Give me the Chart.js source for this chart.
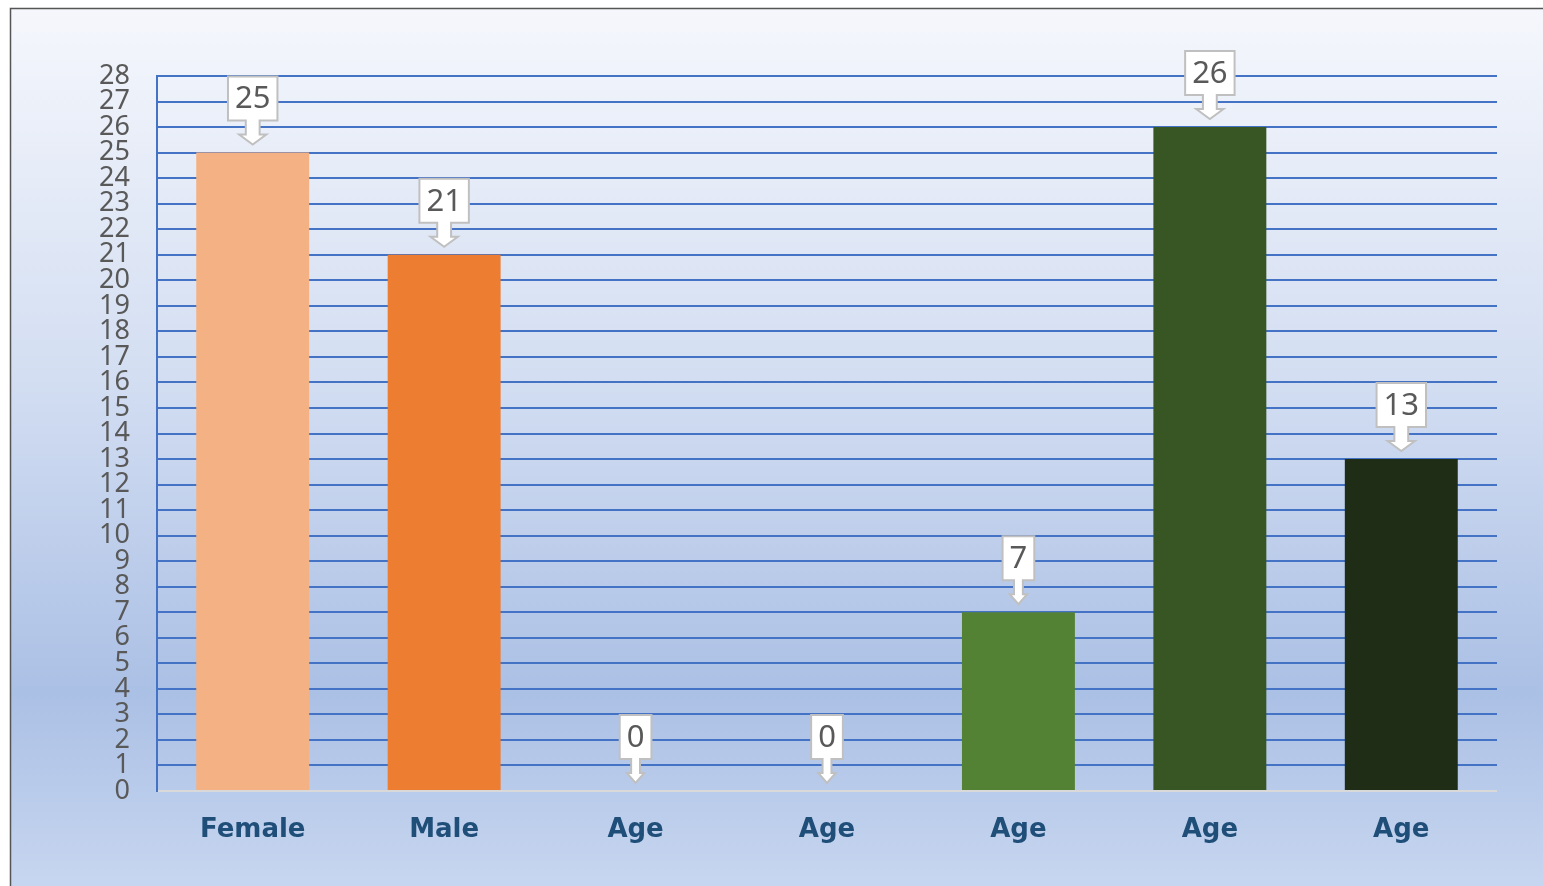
<!DOCTYPE html>
<html>
<head>
<meta charset="utf-8">
<script src="https://cdn.jsdelivr.net/npm/chart.js@4.4.0/dist/chart.umd.min.js"></script>
<style>
    html, body { margin: 0; padding: 0; background: #ffffff; }
    canvas { display: block; }
</style>
</head>
<body>
<canvas id="grafico" width="1543" height="886"></canvas>
<script>
// datos del grafico
var categorias = ["Female", "Male", "Age", "Age", "Age", "Age", "Age"];
var valores = [25, 21, 0, 0, 7, 26, 13];
var coloresBarras = ["#f4b183", "#ed7d31", "#a9d18e", "#70ad47", "#548235", "#375623", "#1f2d16"];
var yMin = 0;
var yMax = 28;

// fondo degradado y marco
var fondoPlugin = {
    id: "fondo",
    beforeDraw: function (chart) {
        var ctx = chart.ctx;
        ctx.save();
        ctx.fillStyle = "#ffffff";
        ctx.fillRect(0, 0, chart.width, chart.height);
        var grad = ctx.createLinearGradient(0, 8, 0, chart.height);
        grad.addColorStop(0, "#f5f7fc");
        grad.addColorStop(0.42, "#d3def2");
        grad.addColorStop(0.78, "#abc0e5");
        grad.addColorStop(1, "#c7d6f0");
        ctx.fillStyle = grad;
        ctx.fillRect(10, 8, chart.width - 10, chart.height - 8);
        ctx.strokeStyle = "#555555";
        ctx.lineWidth = 1.5;
        ctx.beginPath();
        ctx.moveTo(10.5, chart.height);
        ctx.lineTo(10.5, 8.5);
        ctx.lineTo(chart.width, 8.5);
        ctx.stroke();
        ctx.restore();
    }
};

// etiquetas tipo llamada con flecha
var llamadasPlugin = {
    id: "llamadas",
    afterDatasetsDraw: function (chart) {
        var ctx = chart.ctx;
        var meta = chart.getDatasetMeta(0);
        ctx.save();
        ctx.font = "31px 'Noto Sans'";
        meta.data.forEach(function (bar, i) {
            var texto = String(valores[i]);
            var tw = ctx.measureText(texto).width;
            var w = Math.max(31, tw + 14);
            var h = 44;
            var gap = 8;
            var largo = 24;
            var x = bar.x;
            var tip = bar.y - gap;
            var bottom = tip - largo;
            var top = bottom - h;
            var shaft = w * 0.28 / 2;
            var head = w * 0.55 / 2;
            var headH = 10;

            ctx.beginPath();
            ctx.moveTo(x - w / 2, top);
            ctx.lineTo(x + w / 2, top);
            ctx.lineTo(x + w / 2, bottom);
            ctx.lineTo(x + shaft, bottom);
            ctx.lineTo(x + shaft, tip - headH);
            ctx.lineTo(x + head, tip - headH);
            ctx.lineTo(x, tip);
            ctx.lineTo(x - head, tip - headH);
            ctx.lineTo(x - shaft, tip - headH);
            ctx.lineTo(x - shaft, bottom);
            ctx.lineTo(x - w / 2, bottom);
            ctx.closePath();
            ctx.fillStyle = "#ffffff";
            ctx.fill();
            ctx.strokeStyle = "#c0c0c0";
            ctx.lineWidth = 2;
            ctx.stroke();

            ctx.fillStyle = "#595959";
            ctx.textAlign = "center";
            ctx.textBaseline = "middle";
            ctx.fillText(texto, x, top + h / 2 + 1);
        });
        ctx.restore();
    }
};

var ctx1 = document.getElementById("grafico").getContext("2d");
var grafico = new Chart(ctx1, {
    type: "bar",
    data: {
        labels: categorias,
        datasets: [
            {
                data: valores,
                backgroundColor: coloresBarras,
                borderWidth: 0,
                barPercentage: 0.59,
                categoryPercentage: 1,
            },
        ],
    },
    options: {
        responsive: false,
        animation: false,
        layout: {
            padding: { top: 76, right: 46, left: 0, bottom: 0 },
        },
        plugins: {
            legend: { display: false },
            tooltip: { enabled: false },
        },
        scales: {
            y: {
                min: yMin,
                max: yMax,
                afterFit: function (scale) {
                    scale.width = 157;
                },
                ticks: {
                    stepSize: 1,
                    autoSkip: false,
                    padding: 27,
                    color: "#595959",
                    font: { family: "'Noto Sans'", size: 27 },
                },
                grid: {
                    drawTicks: false,
                    lineWidth: 2,
                    color: function (c) {
                        return c.tick && c.tick.value === 0 ? "#d9d9d9" : "#4472c4";
                    },
                },
                border: { display: true, color: "#4472c4", width: 2 },
            },
            x: {
                afterFit: function (scale) {
                    scale.height = 95;
                },
                ticks: {
                    padding: 24,
                    color: "#1f4e79",
                    font: { family: "'DejaVu Sans'", size: 26, weight: "bold" },
                },
                grid: { display: false, drawTicks: false },
                border: { display: false },
            },
        },
    },
    plugins: [fondoPlugin, llamadasPlugin],
});
</script>
</body>
</html>
